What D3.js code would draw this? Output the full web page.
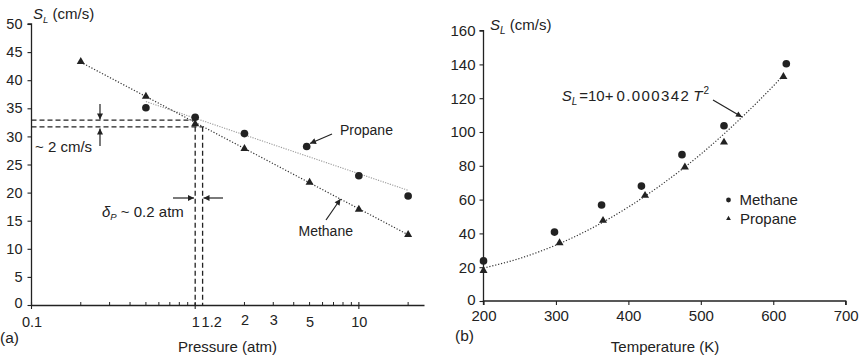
<!DOCTYPE html>
<html>
<head>
<meta charset="utf-8">
<script src="https://cdn.jsdelivr.net/npm/d3@7/dist/d3.min.js"></script>
<style>
  html, body { margin: 0; padding: 0; background: #fff; }
  svg { display: block; }
  text { font-family: "Liberation Sans", Arial, Helvetica, sans-serif; fill: #222; }
</style>
</head>
<body>
<svg id="chart" width="863" height="356"></svg>
<script>
// ---------- Data (panel a: pressure) ----------
const methanePressure = [0.2, 0.5, 1, 2, 5, 10, 20];
const methaneSpeedP   = [43.4, 37.2, 32.3, 27.9, 21.9, 17.1, 12.6];
const propanePressure = [0.5, 1, 2, 4.8, 10, 20];
const propaneSpeedP   = [35.1, 33.4, 30.5, 28.2, 23.0, 19.4];
const methaneTrendP   = [0.2, 20];
const methaneTrendS   = [43.2, 12.5];
const propaneTrendP   = [0.5, 20];
const propaneTrendS   = [36.2, 20.4];
const guideSpeeds     = [32.9, 31.7];
const guidePressures  = [1, 1.11];
const pressureTickLabels = [0.1, 1, 1.2, 2, 3, 5, 10];
const speedTicksA     = [0, 5, 10, 15, 20, 25, 30, 35, 40, 45, 50];

// ---------- Data (panel b: temperature) ----------
const methaneTemp   = [200, 298, 363, 418, 474, 532, 618];
const methaneSpeedT = [23.7, 40.8, 56.8, 68.0, 86.6, 103.7, 140.4];
const propaneTemp   = [200, 305, 365, 423, 478, 532, 614];
const propaneSpeedT = [18.3, 34.7, 47.9, 62.7, 79.5, 94.2, 133.1];
const fitTemp       = [200, 250, 300, 350, 400, 450, 500, 550, 600, 614];
const fitSpeed      = [19.5, 25.2, 33.1, 43.2, 55.6, 70.2, 86.9, 106.0, 127.2, 133.5];
const tempTicks     = [200, 300, 400, 500, 600, 700];
const speedTicksB   = [0, 20, 40, 60, 80, 100, 120, 140, 160];

const ink = "#222";
const svg = d3.select("#chart");

const defs = svg.append("defs");
defs.append("marker").attr("id", "ah")
  .attr("viewBox", "0 0 10 10").attr("refX", 10).attr("refY", 5)
  .attr("markerWidth", 7).attr("markerHeight", 6).attr("markerUnits", "userSpaceOnUse")
  .attr("orient", "auto")
  .append("path").attr("d", "M0,0 L10,5 L0,10 Z").attr("fill", ink);

function arrow(g, x1, y1, x2, y2) {
  g.append("line").attr("x1", x1).attr("y1", y1).attr("x2", x2).attr("y2", y2)
    .attr("stroke", ink).attr("stroke-width", 1.2).attr("marker-end", "url(#ah)");
}

const circleSym = d3.symbol().type(d3.symbolCircle).size(46);
const triSym = d3.symbol().type(d3.symbolTriangle).size(28);

// ================= Panel (a) =================
const xa = d3.scaleLog().domain([0.1, 25]).range([31.5, 424]);
const ya = d3.scaleLinear().domain([0, 50]).range([305, 24]);
const ga = svg.append("g");

// y axis
const yAxisA = d3.axisLeft(ya).tickValues(speedTicksA).tickSize(4).tickPadding(5).tickFormat(d3.format("d"));
const gya = ga.append("g").attr("transform", `translate(${xa.range()[0]},0)`).call(yAxisA);
gya.select(".domain").attr("stroke", ink).attr("stroke-width", 1.3).attr("d", `M-4,${ya(50)}H0V${ya(0)}`);
gya.selectAll(".tick line").attr("stroke", ink).attr("stroke-width", 1.1);
gya.selectAll(".tick text").style("font-size", "14.5px").attr("fill", ink);
gya.selectAll(".tick").filter(d => d === 0).select("text").attr("dy", "0.2em");

// x axis (labels only via d3 axis)
const xAxisA = d3.axisBottom(xa).tickValues(pressureTickLabels).tickSize(0).tickPadding(12)
  .tickFormat(d => String(d));
const gxa = ga.append("g").attr("transform", `translate(0,${ya(0)})`).call(xAxisA);
gxa.select(".domain").attr("stroke", ink).attr("stroke-width", 1.3);
gxa.selectAll(".tick text").style("font-size", "14.5px").attr("fill", ink);
gxa.selectAll(".tick").filter(d => d === 1.2).select("text").attr("dx", 3);
gxa.selectAll(".tick").filter(d => d === 2 || d === 3).select("text").attr("dy", "0.58em");

// minor + major ticks
const minorVals = [];
[0.1, 1, 10].forEach(dec => { for (let k = 2; k <= 9; k++) { const v = dec * k; if (v <= 25) minorVals.push(v); } });
ga.append("g").selectAll("line").data(minorVals).join("line")
  .attr("x1", d => xa(d)).attr("x2", d => xa(d))
  .attr("y1", ya(0) - 3).attr("y2", ya(0))
  .attr("stroke", ink).attr("stroke-width", 1);
ga.append("g").selectAll("line").data([0.1, 1, 10]).join("line")
  .attr("x1", d => xa(d)).attr("x2", d => xa(d))
  .attr("y1", ya(0) - 3).attr("y2", ya(0) + 4)
  .attr("stroke", ink).attr("stroke-width", 1.1);

// guide dashed lines
const dash = "5,3";
guideSpeeds.forEach((s, i) => {
  ga.append("line").attr("x1", xa(0.1)).attr("x2", xa(guidePressures[i]))
    .attr("y1", ya(s)).attr("y2", ya(s))
    .attr("stroke", ink).attr("stroke-width", 1.3).attr("stroke-dasharray", dash);
  ga.append("line").attr("x1", xa(guidePressures[i])).attr("x2", xa(guidePressures[i]))
    .attr("y1", ya(guideSpeeds[1])).attr("y2", ya(0))
    .attr("stroke", ink).attr("stroke-width", 1.3).attr("stroke-dasharray", dash);
});

// trend lines
const lineA = d3.line().x(d => xa(d[0])).y(d => ya(d[1]));
ga.append("path").datum(d3.zip(propaneTrendP, propaneTrendS)).attr("d", lineA)
  .attr("fill", "none").attr("stroke", "#9a9a9a").attr("stroke-width", 1.1).attr("stroke-dasharray", "1.2,1.3");
ga.append("path").datum(d3.zip(methaneTrendP, methaneTrendS)).attr("d", lineA)
  .attr("fill", "none").attr("stroke", "#333").attr("stroke-width", 1.2).attr("stroke-dasharray", "1.2,1.8");

// points
ga.append("g").selectAll("path").data(d3.zip(propanePressure, propaneSpeedP)).join("path")
  .attr("d", circleSym).attr("transform", d => `translate(${xa(d[0])},${ya(d[1])})`).attr("fill", ink);
ga.append("g").selectAll("path").data(d3.zip(methanePressure, methaneSpeedP)).join("path")
  .attr("d", triSym).attr("transform", d => `translate(${xa(d[0])},${ya(d[1]) + 0.5})`).attr("fill", ink);

// annotations (a)
arrow(ga, 100, 104, 100, 119.5);
arrow(ga, 100, 146, 100, 128.5);
ga.append("text").attr("x", 35).attr("y", 151.5).style("font-size", "15px").text("~ 2 cm/s");
arrow(ga, 173, 198, 194, 198);
arrow(ga, 223, 198, 203.5, 198);
const dT = ga.append("text").attr("x", 102).attr("y", 216.5).style("font-size", "15px");
dT.append("tspan").style("font-style", "italic").text("δ");
dT.append("tspan").style("font-size", "9.5px").style("font-style", "italic").attr("dy", 3).text("P");
dT.append("tspan").attr("dy", -3).text(" ~ 0.2 atm");
ga.append("text").attr("x", 340).attr("y", 135).style("font-size", "14px").text("Propane");
arrow(ga, 332, 134, 310, 143.5);
ga.append("text").attr("x", 298.5).attr("y", 236).style("font-size", "14px").text("Methane");
arrow(ga, 326, 220, 340.5, 199);

// title / labels (a)
const tA = ga.append("text").attr("x", 33).attr("y", 18.5).style("font-size", "15px");
tA.append("tspan").style("font-style", "italic").text("S");
tA.append("tspan").style("font-style", "italic").style("font-size", "9.5px").attr("dy", 4).text("L");
tA.append("tspan").attr("dy", -4).text(" (cm/s)");
ga.append("text").attr("x", 0).attr("y", 343).style("font-size", "15.5px").text("(a)");
ga.append("text").attr("x", 227.5).attr("y", 352).attr("text-anchor", "middle").style("font-size", "15px").text("Pressure (atm)");

// ================= Panel (b) =================
const xb = d3.scaleLinear().domain([200, 700]).range([483.5, 845.7]);
const yb = d3.scaleLinear().domain([0, 160]).range([301, 30.6]);
const gb = svg.append("g");

const yAxisB = d3.axisLeft(yb).tickValues(speedTicksB).tickSize(4).tickPadding(4).tickFormat(d3.format("d"));
const gyb = gb.append("g").attr("transform", `translate(${xb(200)},0)`).call(yAxisB);
gyb.select(".domain").attr("stroke", ink).attr("stroke-width", 1.3).attr("d", `M-4,${yb(160)}H0V${yb(0)}`);
gyb.selectAll(".tick line").attr("stroke", ink).attr("stroke-width", 1.1);
gyb.selectAll(".tick text").style("font-size", "15px").attr("fill", ink);
gyb.selectAll(".tick").filter(d => d === 0).select("text").attr("dy", "0.2em");

const xAxisB = d3.axisBottom(xb).tickValues(tempTicks).tickSize(4).tickPadding(5).tickFormat(d3.format("d"));
const gxb = gb.append("g").attr("transform", `translate(0,${yb(0)})`).call(xAxisB);
gxb.select(".domain").attr("stroke", ink).attr("stroke-width", 1.3).attr("d", `M${xb(200)},4V0H${xb(700)}V4`);
gxb.selectAll(".tick line").attr("stroke", ink).attr("stroke-width", 1.1);
gxb.selectAll(".tick text").style("font-size", "15px").attr("fill", ink);

// fit curve
const lineB = d3.line().x(d => xb(d[0])).y(d => yb(d[1])).curve(d3.curveMonotoneX);
gb.append("path").datum(d3.zip(fitTemp, fitSpeed)).attr("d", lineB)
  .attr("fill", "none").attr("stroke", "#333").attr("stroke-width", 1.2).attr("stroke-dasharray", "1.2,1.8");

gb.append("g").selectAll("path").data(d3.zip(methaneTemp, methaneSpeedT)).join("path")
  .attr("d", circleSym).attr("transform", d => `translate(${xb(d[0])},${yb(d[1])})`).attr("fill", ink);
gb.append("g").selectAll("path").data(d3.zip(propaneTemp, propaneSpeedT)).join("path")
  .attr("d", triSym).attr("transform", d => `translate(${xb(d[0])},${yb(d[1]) + 0.5})`).attr("fill", ink);

// equation
const eq = gb.append("text").attr("x", 561.7).attr("y", 100.5).style("font-size", "15px");
eq.append("tspan").style("font-style", "italic").text("S");
eq.append("tspan").style("font-style", "italic").style("font-size", "10px").attr("dy", 4).text("L");
eq.append("tspan").attr("dy", -4).attr("dx", 2).text("=10+");
eq.append("tspan").attr("dx", 3).style("letter-spacing", "1.4px").text("0.000342");
eq.append("tspan").attr("dx", 3).style("font-style", "italic").text("T");
eq.append("tspan").style("font-size", "10px").attr("dy", -7).attr("dx", 1).text("2");
arrow(gb, 713, 100, 742, 117);

// legend
gb.append("path").attr("d", d3.symbol().type(d3.symbolCircle).size(18)).attr("transform", "translate(728.5,200)").attr("fill", ink);
gb.append("path").attr("d", d3.symbol().type(d3.symbolTriangle).size(10)).attr("transform", "translate(728.5,218.5)").attr("fill", ink);
gb.append("text").attr("x", 739.5).attr("y", 205).style("font-size", "15px").text("Methane");
gb.append("text").attr("x", 740).attr("y", 223.5).style("font-size", "15px").text("Propane");

// title / labels (b)
const tB = gb.append("text").attr("x", 490).attr("y", 30).style("font-size", "15px");
tB.append("tspan").style("font-style", "italic").text("S");
tB.append("tspan").style("font-style", "italic").style("font-size", "10px").attr("dy", 4).text("L");
tB.append("tspan").attr("dy", -4).text(" (cm/s)");
gb.append("text").attr("x", 455).attr("y", 341).style("font-size", "15.5px").text("(b)");
gb.append("text").attr("x", 665).attr("y", 352).attr("text-anchor", "middle").style("font-size", "15px").text("Temperature (K)");
</script>
</body>
</html>
